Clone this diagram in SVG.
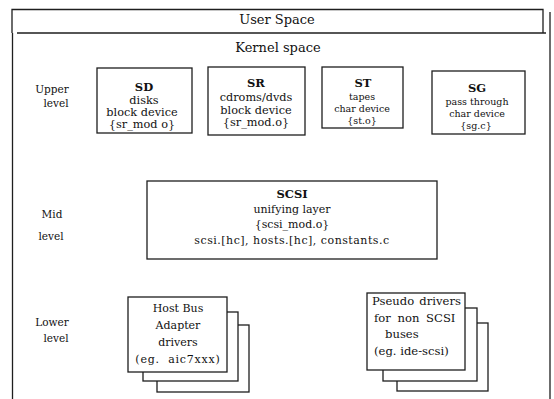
<svg xmlns="http://www.w3.org/2000/svg" width="554" height="399" viewBox="0 0 554 399">
  <style>
    .ln { fill: none; stroke: #1e1e1e; stroke-width: 1.3; }
    .box { fill: #ffffff; stroke: #1e1e1e; stroke-width: 1.3; }
    text { font-family: "DejaVu Serif", "Liberation Serif", serif; fill: #111111; text-anchor: middle; }
    .title { font-size: 13px; }
    .body { font-size: 11px; }
    .up { font-size: 11.3px; }
    .small { font-size: 9.5px; }
    .head { font-size: 11.5px; font-weight: bold; }
    .lvl { font-size: 10.5px; }
    .ps { font-size: 11.6px; text-anchor: start; }
  </style>
  <rect width="554" height="399" fill="#ffffff"/>

  <!-- frames: user space strip and kernel space enclosure -->
  <g id="frames">
    <path class="ln" d="M12,33 V9.5 H543 V33"/>
    <path class="ln" d="M17,33 H546"/>
    <path class="ln" d="M12.5,33 V399"/>
    <path class="ln" d="M550,12 V399"/>
    <text class="title" x="277" y="24">User Space</text>
    <text class="title" x="278" y="52">Kernel space</text>
  </g>

  <!-- level captions -->
  <g id="levels">
    <text class="lvl" x="52" y="93">Upper</text>
    <text class="lvl" x="56" y="107">level</text>
    <text class="lvl" x="52" y="218">Mid</text>
    <text class="lvl" x="51" y="240">level</text>
    <text class="lvl" x="52" y="326">Lower</text>
    <text class="lvl" x="56" y="342">level</text>
  </g>

  <g id="connectors"/>

  <g id="sd">
    <rect class="box" x="97" y="68" width="95" height="65"/>
    <text class="head" x="144" y="91">SD</text>
    <text class="up" x="144" y="104">disks</text>
    <text class="up" x="142" y="116">block device</text>
    <text class="up" x="142" y="128">{sr_mod o}</text>
  </g>

  <g id="sr">
    <rect class="box" x="208" y="67" width="97" height="68"/>
    <text class="head" x="256" y="87">SR</text>
    <text class="up" x="256" y="101">cdroms/dvds</text>
    <text class="up" x="256" y="114">block device</text>
    <text class="up" x="256" y="126">{sr_mod.o}</text>
  </g>

  <g id="st">
    <rect class="box" x="322" y="67" width="81" height="61"/>
    <text class="head" x="363" y="87">ST</text>
    <text class="small" x="362" y="100">tapes</text>
    <text class="small" x="362" y="112">char device</text>
    <text class="small" x="362" y="124">{st.o}</text>
  </g>

  <g id="sg">
    <rect class="box" x="432" y="71" width="93" height="63"/>
    <text class="head" x="477" y="92">SG</text>
    <text class="small" x="477" y="105">pass through</text>
    <text class="small" x="477" y="117">char device</text>
    <text class="small" x="476" y="129">{sg.c}</text>
  </g>

  <g id="scsi">
    <rect class="box" x="147" y="181" width="290" height="78"/>
    <text class="head" x="292" y="198">SCSI</text>
    <text class="body" x="292" y="213">unifying layer</text>
    <text class="body" x="292" y="228">{scsi_mod.o}</text>
    <text class="body" x="292" y="244" letter-spacing="0.5">scsi.[hc], hosts.[hc], constants.c</text>
  </g>

  <g id="hba">
    <rect class="box" x="157" y="325" width="92" height="67"/>
    <rect class="box" x="143" y="312" width="95" height="69"/>
    <rect class="box" x="128" y="297" width="99" height="75"/>
    <text class="body" x="178" y="312">Host Bus</text>
    <text class="body" x="178" y="329">Adapter</text>
    <text class="body" x="178" y="346">drivers</text>
    <text class="body" x="178" y="363" letter-spacing="0.8" word-spacing="4">(eg. aic7xxx)</text>
  </g>

  <g id="pseudo">
    <rect class="box" x="397" y="323" width="91" height="68"/>
    <rect class="box" x="383" y="308" width="94" height="73"/>
    <rect class="box" x="367" y="293" width="98" height="77"/>
    <text class="ps" x="372" y="305" word-spacing="1.5">Pseudo drivers</text>
    <text class="ps" x="374" y="322" word-spacing="3">for non SCSI</text>
    <text class="ps" x="385" y="338">buses</text>
    <text class="ps" x="374" y="355">(eg. ide-scsi)</text>
  </g>
</svg>
